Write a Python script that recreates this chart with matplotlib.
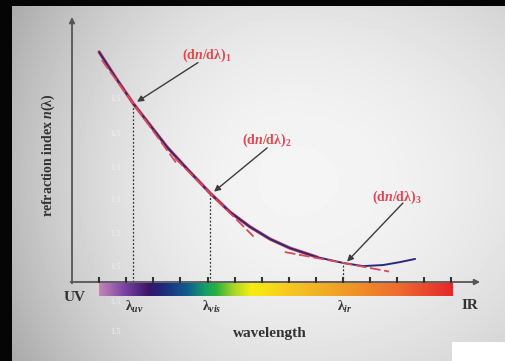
import numpy as np
import matplotlib
import matplotlib.pyplot as plt
from matplotlib.colors import LinearSegmentedColormap

plt.rcParams['font.family'] = 'Liberation Serif'
plt.rcParams['font.weight'] = 'bold'
plt.rcParams['mathtext.fontset'] = 'custom'
plt.rcParams['mathtext.rm'] = 'Liberation Serif:bold'
plt.rcParams['mathtext.it'] = 'Liberation Serif:italic:bold'

# refraction index curve n(lambda), arbitrary units
wl = [1.0, 1.62, 2.25, 2.88, 3.51, 4.28, 5.09, 5.83, 6.57, 7.31, 8.04, 9.04,
      10.0, 10.74, 11.48, 12.10, 12.66]
n_val = [8.68, 7.70, 6.75, 5.92, 5.09, 4.23, 3.36, 2.64, 2.08, 1.62, 1.28, 0.94,
         0.72, 0.60, 0.64, 0.75, 0.87]

# points where the slope dn/dlambda is shown
lam_pts = [2.25, 5.09, 10.0]
lam_names = [r'λ$_{uv}$', r'λ$_{vis}$', r'λ$_{ir}$']
tan_span = [(1.1, 3.9), (3.8, 6.7), (7.85, 11.7)]
slope_labels = [r'(d$n$/dλ)$_1$', r'(d$n$/dλ)$_2$', r'(d$n$/dλ)$_3$']
label_pos = [(4.98, 8.57), (7.2, 5.36), (12.0, 3.18)]
arrow_start = [(4.65, 8.28), (7.2, 5.06), (12.21, 2.98)]

tick_x = list(range(1, 15))
faint_y = [6.9, 5.6, 4.3, 3.1, 1.8, 0.55, -0.75, -1.9]

# background: gray vignette with a black frame on the left / top
yy, xx = np.mgrid[0:361, 0:505]
sx = np.where(xx < 290, 290.0, 430.0)
r2 = ((xx - 290) / sx) ** 2 + ((yy - 180) / 320.0) ** 2
bg_val = np.clip(0.96 - 0.24 * r2, 0, 1)
bg_val[:, :12] = 0.02
bg_val[:6, :] = 0.02
bg_val[342:, 452:] = 1.0

fig = plt.figure(figsize=(5.05, 3.61), dpi=100)
bg = fig.add_axes([0, 0, 1, 1])
bg.imshow(bg_val, cmap='gray', vmin=0, vmax=1, aspect='auto', interpolation='bilinear')
bg.axis('off')

ax = fig.add_axes([0, 0, 1, 1])
ax.patch.set_alpha(0)
ax.axis('off')

# spectrum bar under the x axis
spec = LinearSegmentedColormap.from_list('spec', [
    (0.00, '#c384b8'), (0.07, '#7a44a4'), (0.14, '#3a1468'), (0.18, '#1c2a7c'),
    (0.25, '#0e5e90'), (0.30, '#12a068'), (0.33, '#28b040'), (0.38, '#a8d428'),
    (0.43, '#f6ee10'), (0.55, '#f6c424'), (0.68, '#f0a024'), (0.85, '#ee6a30'),
    (1.00, '#e42828')])
ax.imshow(np.linspace(0, 1, 256)[np.newaxis, :], cmap=spec, aspect='auto',
          extent=(1.0, 14.06, -0.53, -0.04), zorder=1)

# axes with arrows
ax.annotate('', xy=(15.06, 0), xytext=(-0.05, 0),
            arrowprops=dict(arrowstyle='-|>', color='#555555', lw=1.3,
                            mutation_scale=8, shrinkA=0, shrinkB=0), zorder=3)
ax.annotate('', xy=(0, 10.0), xytext=(0, -0.05),
            arrowprops=dict(arrowstyle='-|>', color='#555555', lw=1.3,
                            mutation_scale=8, shrinkA=0, shrinkB=0), zorder=3)
ax.plot(tick_x, np.zeros(len(tick_x)) + 0.08, ls='none', marker='|', ms=4,
        mew=1.5, color='#333333', zorder=3)

# faint leftover digits of the original scale
for fy in faint_y:
    ax.text(1.6, fy, '1.5', color='white', alpha=0.4, fontsize=6,
            ha='center', va='center')

# curve
ax.plot(wl[:12], n_val[:12], color='#d84a5c', lw=2.4, solid_capstyle='round', zorder=4)
ax.plot(wl, n_val, color='#2c2a78', lw=1.4, solid_capstyle='round', zorder=5)

# tangents and guides
slopes = np.gradient(np.array(n_val), np.array(wl))
for lp, (a, b) in zip(lam_pts, tan_span):
    n0 = np.interp(lp, wl, n_val)
    s = np.interp(lp, wl, slopes)
    xs = np.array([a, b])
    ax.plot(xs, n0 + s * (xs - lp), color='#d84a5c', lw=1.3, ls=(0, (6, 2)),
            zorder=6)
    ax.plot([lp, lp], [0, n0], color='#333333', lw=0.9, ls=(0, (1.5, 1.5)), zorder=2)

for lp, lab in zip(lam_pts, lam_names):
    ax.text(lp + 0.05, -0.94, lab, color='#333333', fontsize=10, ha='center', va='center')

for lp, lab, pos, st in zip(lam_pts, slope_labels, label_pos, arrow_start):
    n0 = np.interp(lp, wl, n_val)
    ax.text(pos[0], pos[1], lab, color='#e04850', fontsize=10, ha='center', va='center',
            zorder=7)
    ax.annotate('', xy=(lp + 0.15, n0 + 0.05), xytext=st,
                arrowprops=dict(arrowstyle='-|>', color='#3c3c3c', lw=1.0,
                                mutation_scale=9, shrinkA=0, shrinkB=0), zorder=7)

ax.text(0.11, -0.60, 'UV', color='#333333', fontsize=11, ha='center', va='center')
ax.text(14.69, -0.87, 'IR', color='#333333', fontsize=11, ha='center', va='center')
ax.text(7.31, -1.96, 'wavelength', color='#333333', fontsize=11, ha='center', va='center')
ax.text(-0.89, 4.79, r'refraction index $n$(λ)', color='#333333', fontsize=10,
        rotation=90, ha='center', va='center')

ax.set_xlim(-72 / 27.1, (505 - 72) / 27.1)
ax.set_ylim(-(361 - 282) / 26.5, 282 / 26.5)

fig.savefig('out.png', dpi=100)
